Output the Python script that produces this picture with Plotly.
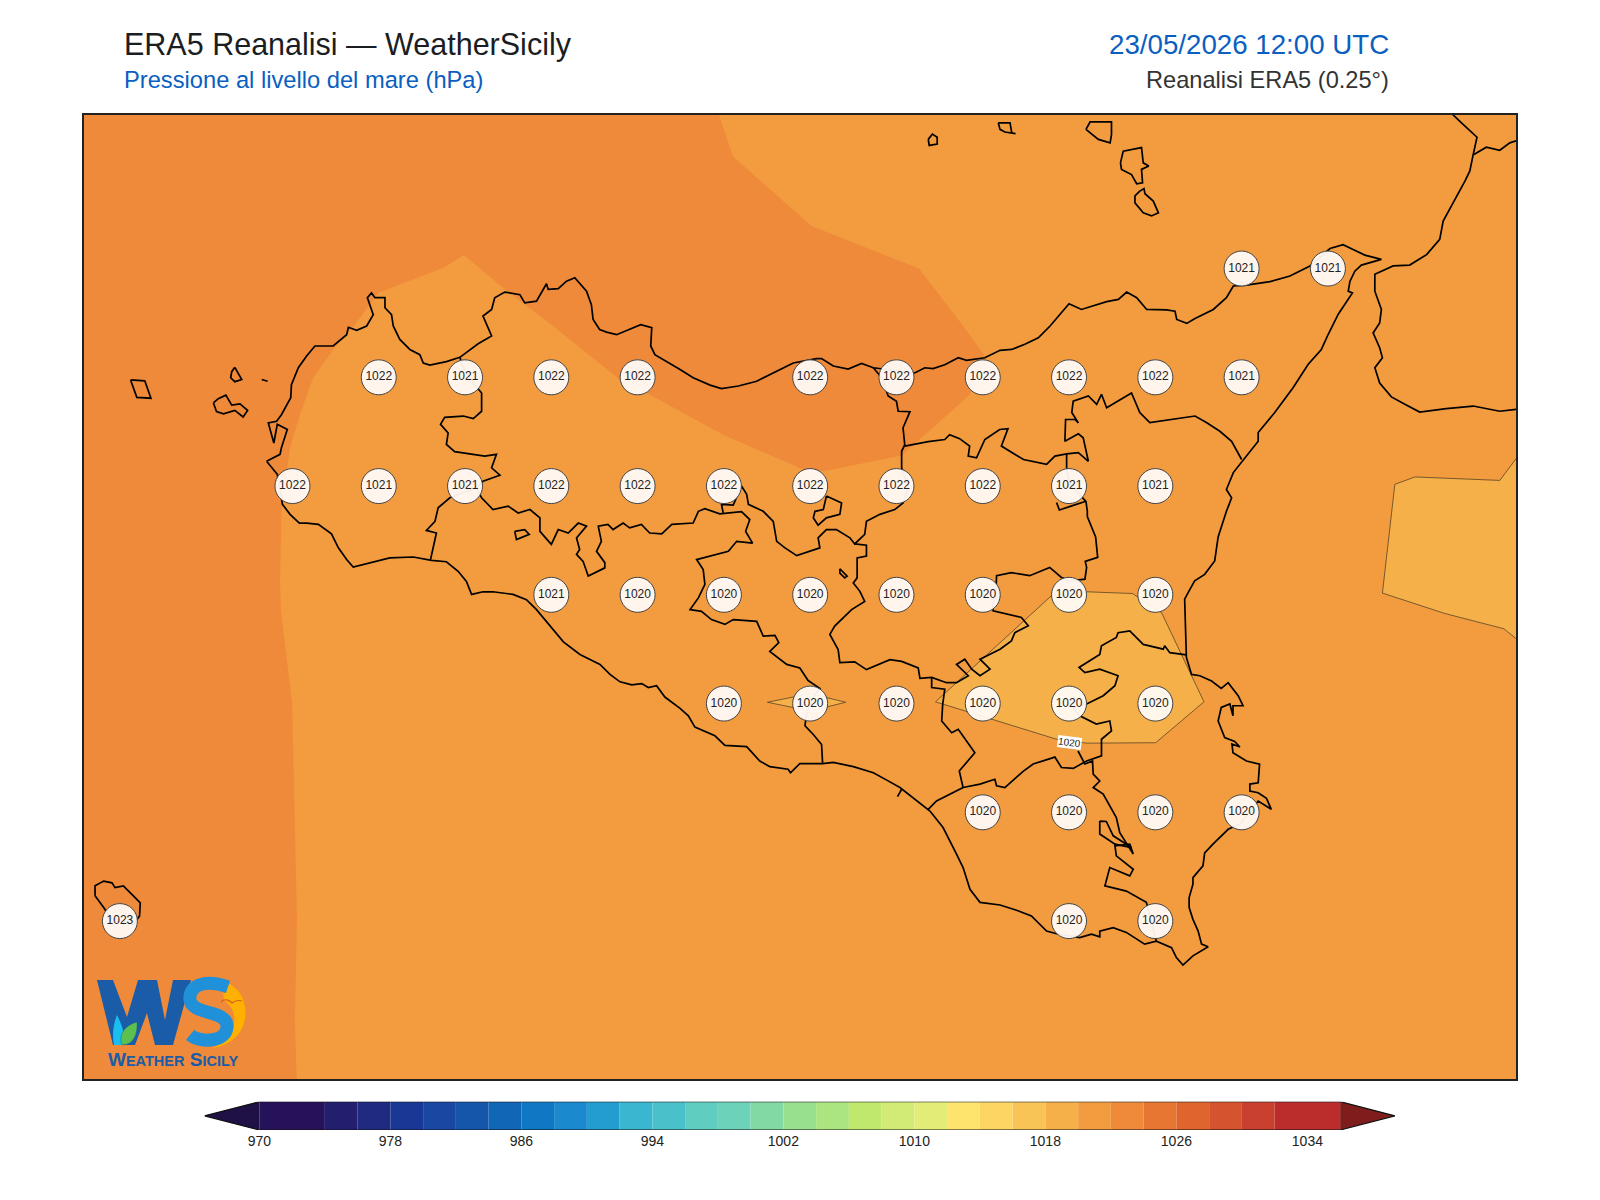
import re
import plotly.graph_objects as go

# map window (deg)
lon_range = [11.896, 16.045]
lat_range = [36.387, 38.603]

# grid points with values
row_3825_lon = [15.25, 15.5]
row_3825_val = [1021, 1021]
row_3800_lon = [12.75, 13.0, 13.25, 13.5, 14.0, 14.25, 14.5, 14.75, 15.0, 15.25]
row_3800_val = [1022, 1021, 1022, 1022, 1022, 1022, 1022, 1022, 1022, 1021]
row_3775_lon = [12.5, 12.75, 13.0, 13.25, 13.5, 13.75, 14.0, 14.25, 14.5, 14.75, 15.0]
row_3775_val = [1022, 1021, 1021, 1022, 1022, 1022, 1022, 1022, 1022, 1021, 1021]
row_3750_lon = [13.25, 13.5, 13.75, 14.0, 14.25, 14.5, 14.75, 15.0]
row_3750_val = [1021, 1020, 1020, 1020, 1020, 1020, 1020, 1020]
row_3725_lon = [13.75, 14.0, 14.25, 14.5, 14.75, 15.0]
row_3725_val = [1020, 1020, 1020, 1020, 1020, 1020]
row_3700_lon = [14.5, 14.75, 15.0, 15.25]
row_3700_val = [1020, 1020, 1020, 1020]
row_3675_lon = [12.0, 14.75, 15.0]
row_3675_val = [1023, 1020, 1020]

# colorbar
cb_edges = [970, 974, 976, 978, 980, 982, 984, 986, 988, 990, 992, 994, 996, 998, 1000, 1002,
            1004, 1006, 1008, 1010, 1012, 1014, 1016, 1018, 1020, 1022, 1024, 1026, 1028, 1030, 1032, 1036]
cb_colors = ['#25125A', '#221F6F', '#1F2A80', '#193895', '#1A47A2', '#1556AB', '#1266B6', '#0F78C5',
             '#1A89CD', '#239DD0', '#3AB6D0', '#4AC1CA', '#5FCDC0', '#6DD3B8', '#83D9A4', '#98DF8E',
             '#ABE57F', '#BFE86C', '#D2EB76', '#E2ED77', '#FDE46D', '#FCD562', '#F7C455', '#F5B049',
             '#F29C3F', '#EE8A3A', '#E77632', '#E0642D', '#D5532D', '#C9402E', '#BB2C2C']
cb_ticks = [970, 978, 986, 994, 1002, 1010, 1018, 1026, 1034]
under_color = '#1F1046'
over_color = '#7F1D1D'

# pressure regions
band_1020 = [(11.8, 36.3), (16.1, 36.3), (16.1, 38.7), (11.8, 38.7)]
band_1022 = [(11.8, 38.7), (13.69, 38.7), (13.735, 38.605), (13.777, 38.507), (14.004, 38.348), (14.315, 38.250),
             (14.433, 38.129), (14.506, 38.049), (14.462, 37.960), (14.265, 37.820), (14.038, 37.784),
             (13.980, 37.788), (13.748, 37.868), (13.536, 37.960), (13.448, 37.995), (13.255, 38.118),
             (13.110, 38.206), (12.997, 38.281), (12.937, 38.252), (12.748, 38.194), (12.681, 38.121),
             (12.618, 38.064), (12.560, 37.999), (12.522, 37.915), (12.493, 37.838), (12.468, 37.692),
             (12.464, 37.524), (12.467, 37.462), (12.499, 37.250), (12.513, 36.754), (12.507, 36.519),
             (12.516, 36.30), (11.8, 36.30)]
band_1018_a = [(14.363, 37.254), (14.699, 37.498), (14.801, 37.507), (14.934, 37.503), (15.018, 37.459),
               (15.141, 37.254), (15.001, 37.160), (14.801, 37.159), (14.714, 37.168)]
band_1018_b = [(13.876, 37.253), (14.0, 37.273), (14.103, 37.253), (14.0, 37.233)]
band_1018_c = [(15.694, 37.754), (15.752, 37.771), (15.998, 37.763), (16.09, 37.86), (16.09, 37.37),
               (16.010, 37.422), (15.839, 37.457), (15.658, 37.504)]

# coast lines
sicily = [(12.425, 37.807), (12.440, 37.792), (12.456, 37.777), (12.471, 37.708), (12.493, 37.685), (12.520, 37.665),
          (12.541, 37.665), (12.575, 37.662), (12.613, 37.640), (12.633, 37.608), (12.657, 37.581), (12.676, 37.564),
          (12.734, 37.576), (12.782, 37.585), (12.850, 37.587), (12.903, 37.579), (12.946, 37.576), (12.980, 37.554),
          (13.004, 37.531), (13.019, 37.501), (13.052, 37.507), (13.081, 37.507), (13.139, 37.501), (13.178, 37.489),
          (13.207, 37.466), (13.285, 37.392), (13.333, 37.363), (13.391, 37.340), (13.420, 37.317), (13.449, 37.300),
          (13.483, 37.293), (13.512, 37.296), (13.531, 37.287), (13.555, 37.291), (13.579, 37.265), (13.623, 37.239),
          (13.647, 37.222), (13.666, 37.196), (13.724, 37.176), (13.753, 37.154), (13.816, 37.151), (13.854, 37.118),
          (13.883, 37.105), (13.936, 37.099), (13.943, 37.091), (13.970, 37.112), (14.036, 37.112), (14.067, 37.115),
          (14.125, 37.105), (14.183, 37.091), (14.231, 37.070), (14.260, 37.057), (14.347, 37.003), (14.385, 36.965),
          (14.424, 36.904), (14.443, 36.873), (14.463, 36.823), (14.492, 36.793), (14.550, 36.787), (14.598, 36.775),
          (14.641, 36.762), (14.685, 36.727), (14.714, 36.721), (14.781, 36.712), (14.815, 36.720), (14.839, 36.714),
          (14.839, 36.727), (14.878, 36.735), (14.916, 36.724), (14.969, 36.697), (15.003, 36.704), (15.047, 36.689),
          (15.061, 36.666), (15.080, 36.649), (15.109, 36.670), (15.138, 36.685), (15.153, 36.691), (15.134, 36.697),
          (15.124, 36.727), (15.109, 36.754), (15.098, 36.781), (15.098, 36.804), (15.109, 36.835), (15.109, 36.850),
          (15.138, 36.877), (15.143, 36.907), (15.167, 36.927), (15.211, 36.961), (15.245, 36.973), (15.298, 37.026),
          (15.336, 37.007), (15.322, 37.032), (15.298, 37.045), (15.274, 37.049), (15.274, 37.065), (15.298, 37.068),
          (15.302, 37.111), (15.264, 37.118), (15.225, 37.137), (15.222, 37.157), (15.245, 37.150), (15.230, 37.163),
          (15.201, 37.172), (15.182, 37.210), (15.191, 37.241), (15.216, 37.249), (15.225, 37.222), (15.225, 37.245),
          (15.254, 37.245), (15.240, 37.268), (15.211, 37.298), (15.191, 37.285), (15.163, 37.302), (15.129, 37.314),
          (15.105, 37.317), (15.090, 37.356), (15.088, 37.425), (15.085, 37.490), (15.095, 37.505), (15.114, 37.532),
          (15.143, 37.547), (15.172, 37.578), (15.182, 37.633), (15.206, 37.692), (15.221, 37.723), (15.206, 37.742),
          (15.226, 37.781), (15.255, 37.811), (15.274, 37.829), (15.298, 37.853), (15.298, 37.873), (15.346, 37.919),
          (15.399, 37.976), (15.443, 38.030), (15.481, 38.064), (15.501, 38.099), (15.530, 38.145), (15.571, 38.194),
          (15.559, 38.198), (15.564, 38.221), (15.578, 38.244), (15.597, 38.258), (15.655, 38.271), (15.607, 38.281),
          (15.573, 38.294), (15.544, 38.305), (15.506, 38.296), (15.448, 38.256), (15.390, 38.233), (15.332, 38.220),
          (15.264, 38.212), (15.226, 38.210), (15.206, 38.183), (15.168, 38.156), (15.115, 38.135), (15.091, 38.124),
          (15.062, 38.133), (15.057, 38.152), (15.033, 38.155), (14.975, 38.156), (14.946, 38.183), (14.917, 38.196),
          (14.893, 38.179), (14.859, 38.174), (14.786, 38.156), (14.750, 38.169), (14.695, 38.118), (14.661, 38.091),
          (14.622, 38.076), (14.584, 38.064), (14.550, 38.062), (14.506, 38.045), (14.453, 38.039), (14.429, 38.045),
          (14.390, 38.029), (14.356, 38.020), (14.332, 38.022), (14.303, 38.010), (14.183, 38.022), (14.149, 38.032),
          (14.110, 38.019), (14.067, 38.026), (14.033, 38.043), (14.018, 38.043), (13.951, 38.033), (13.893, 38.010),
          (13.845, 37.991), (13.792, 37.980), (13.743, 37.974), (13.710, 37.982), (13.661, 37.999), (13.623, 38.018),
          (13.584, 38.037), (13.550, 38.052), (13.538, 38.072), (13.541, 38.114), (13.509, 38.121), (13.478, 38.110),
          (13.439, 38.098), (13.410, 38.104), (13.390, 38.110), (13.371, 38.133), (13.366, 38.167), (13.352, 38.198),
          (13.318, 38.229), (13.294, 38.221), (13.270, 38.204), (13.241, 38.202), (13.236, 38.215), (13.207, 38.175),
          (13.173, 38.171), (13.159, 38.190), (13.115, 38.196), (13.086, 38.183), (13.077, 38.156), (13.052, 38.141),
          (13.077, 38.095), (13.038, 38.077), (12.985, 38.046), (12.946, 38.036), (12.898, 38.028), (12.879, 38.033),
          (12.869, 38.052), (12.840, 38.064), (12.811, 38.087), (12.792, 38.118), (12.787, 38.144), (12.768, 38.160),
          (12.768, 38.183), (12.739, 38.183), (12.729, 38.194), (12.717, 38.183), (12.734, 38.144), (12.715, 38.118),
          (12.686, 38.108), (12.662, 38.115), (12.657, 38.098), (12.618, 38.072), (12.565, 38.072), (12.541, 38.049),
          (12.517, 38.022), (12.497, 37.983), (12.495, 37.953), (12.468, 37.914), (12.454, 37.899), (12.430, 37.895),
          (12.446, 37.849), (12.456, 37.892), (12.485, 37.880), (12.468, 37.838), (12.464, 37.823), (12.425, 37.807)]
favignana = [(12.271, 37.941), (12.285, 37.951), (12.307, 37.959), (12.324, 37.936), (12.348, 37.939), (12.370, 37.924),
             (12.357, 37.909), (12.333, 37.924), (12.300, 37.916), (12.280, 37.921), (12.271, 37.941)]
levanzo = [(12.333, 38.023), (12.353, 37.995), (12.333, 37.990), (12.321, 37.999), (12.324, 38.013), (12.333, 38.023)]
formica = [(12.411, 37.995), (12.428, 37.991)]
marettimo = [(12.031, 37.994), (12.072, 37.992), (12.090, 37.952), (12.049, 37.954), (12.031, 37.994)]
alicudi = [(14.342, 38.547), (14.354, 38.559), (14.368, 38.552), (14.368, 38.536), (14.345, 38.533), (14.342, 38.547)]
filicudi = [(14.545, 38.585), (14.579, 38.585), (14.584, 38.562), (14.595, 38.560), (14.564, 38.564), (14.550, 38.570),
            (14.545, 38.585)]
salina = [(14.799, 38.570), (14.811, 38.587), (14.873, 38.587), (14.873, 38.558), (14.869, 38.539), (14.835, 38.547),
          (14.799, 38.570)]
lipari = [(14.899, 38.493), (14.907, 38.520), (14.960, 38.528), (14.965, 38.493), (14.981, 38.486), (14.960, 38.478),
          (14.963, 38.447), (14.946, 38.445), (14.931, 38.466), (14.902, 38.478), (14.899, 38.493)]
vulcano = [(14.955, 38.428), (14.967, 38.434), (14.970, 38.422), (14.994, 38.405), (15.009, 38.378), (14.989, 38.371),
           (14.965, 38.378), (14.941, 38.401), (14.941, 38.417), (14.955, 38.428)]
linosa = [(11.928, 36.808), (11.928, 36.831), (11.953, 36.842), (11.977, 36.838), (11.986, 36.827), (12.010, 36.831),
          (12.039, 36.808), (12.059, 36.792), (12.057, 36.762), (12.039, 36.742), (11.972, 36.758), (11.953, 36.781),
          (11.928, 36.808)]
calabria = [(15.85, 38.615), (15.863, 38.603), (15.887, 38.585), (15.932, 38.552), (15.921, 38.512), (15.911, 38.474),
            (15.897, 38.451), (15.868, 38.409), (15.834, 38.359), (15.824, 38.317), (15.786, 38.282), (15.737, 38.258),
            (15.689, 38.256), (15.636, 38.237), (15.636, 38.198), (15.655, 38.156), (15.650, 38.125), (15.631, 38.102),
            (15.650, 38.068), (15.658, 38.045), (15.636, 38.022), (15.650, 37.987), (15.684, 37.955), (15.723, 37.938),
            (15.766, 37.920), (15.843, 37.928), (15.921, 37.934), (15.998, 37.922), (16.06, 37.928)]
calabria_border = [(15.923, 38.512), (15.959, 38.529), (15.998, 38.522), (16.027, 38.539), (16.06, 38.547)]

# province borders
trapani_border = [(12.985, 38.046), (12.995, 38.022), (13.028, 37.983), (13.048, 37.964), (13.048, 37.922),
                  (13.024, 37.905), (12.995, 37.911), (12.941, 37.908), (12.929, 37.892), (12.951, 37.872),
                  (12.946, 37.846), (12.970, 37.829), (13.057, 37.819), (13.091, 37.823), (13.077, 37.792),
                  (13.101, 37.775), (13.052, 37.761), (13.033, 37.746), (12.956, 37.723), (12.922, 37.700),
                  (12.913, 37.669), (12.888, 37.648), (12.917, 37.642), (12.908, 37.612), (12.900, 37.581)]
agrigento_border = [(13.033, 37.746), (13.048, 37.723), (13.081, 37.696), (13.125, 37.704), (13.154, 37.688),
                    (13.188, 37.696), (13.217, 37.677), (13.217, 37.646), (13.250, 37.616), (13.270, 37.650),
                    (13.299, 37.642), (13.328, 37.665), (13.352, 37.658), (13.323, 37.631), (13.332, 37.604),
                    (13.323, 37.593), (13.342, 37.577), (13.357, 37.543), (13.405, 37.562), (13.405, 37.574),
                    (13.381, 37.600), (13.395, 37.623), (13.386, 37.658), (13.414, 37.662), (13.429, 37.650),
                    (13.458, 37.665), (13.477, 37.654), (13.511, 37.662), (13.535, 37.642), (13.570, 37.640),
                    (13.599, 37.662), (13.661, 37.665), (13.676, 37.692), (13.695, 37.698), (13.738, 37.686),
                    (13.801, 37.691), (13.825, 37.673), (13.813, 37.646), (13.833, 37.619), (13.787, 37.623),
                    (13.763, 37.600), (13.710, 37.589), (13.671, 37.581), (13.690, 37.558), (13.695, 37.524),
                    (13.676, 37.493), (13.652, 37.466), (13.685, 37.462), (13.714, 37.443), (13.753, 37.432),
                    (13.777, 37.443), (13.845, 37.439), (13.864, 37.405), (13.898, 37.407), (13.909, 37.390),
                    (13.883, 37.370), (13.932, 37.340), (13.970, 37.332), (13.994, 37.303), (14.028, 37.285),
                    (14.009, 37.264), (13.989, 37.225), (13.985, 37.199), (14.009, 37.179), (14.033, 37.156),
                    (14.036, 37.112)]
palermo_border = [(13.748, 37.688), (13.743, 37.708), (13.777, 37.706), (13.787, 37.723), (13.801, 37.750),
                  (13.816, 37.731), (13.821, 37.708), (13.864, 37.692), (13.893, 37.669), (13.903, 37.623),
                  (13.927, 37.608), (13.961, 37.590), (14.009, 37.602), (14.028, 37.608), (14.023, 37.631),
                  (14.047, 37.650), (14.076, 37.650), (14.115, 37.631), (14.129, 37.617), (14.158, 37.639),
                  (14.163, 37.669), (14.202, 37.685), (14.245, 37.696), (14.269, 37.711), (14.284, 37.746),
                  (14.265, 37.792), (14.265, 37.830), (14.274, 37.845), (14.269, 37.884), (14.289, 37.921),
                  (14.255, 37.922), (14.250, 37.945), (14.226, 37.957), (14.207, 37.999), (14.183, 38.022)]
enna_border = [(14.129, 37.617), (14.163, 37.614), (14.163, 37.589), (14.136, 37.585), (14.136, 37.539), (14.125, 37.527),
               (14.144, 37.508), (14.158, 37.485), (14.120, 37.466), (14.071, 37.428), (14.057, 37.409), (14.081, 37.374),
               (14.086, 37.344), (14.129, 37.346), (14.163, 37.328), (14.231, 37.351), (14.265, 37.347), (14.313, 37.332),
               (14.318, 37.308), (14.352, 37.310), (14.395, 37.298), (14.424, 37.298), (14.458, 37.314), (14.424, 37.340),
               (14.448, 37.352), (14.468, 37.329), (14.492, 37.314), (14.521, 37.329), (14.492, 37.352), (14.550, 37.375),
               (14.583, 37.394), (14.593, 37.413), (14.632, 37.429), (14.612, 37.448), (14.530, 37.463), (14.528, 37.478),
               (14.538, 37.501), (14.540, 37.544), (14.583, 37.551), (14.636, 37.544), (14.694, 37.563), (14.728, 37.540),
               (14.752, 37.532), (14.796, 37.536), (14.801, 37.563), (14.797, 37.577), (14.833, 37.586), (14.827, 37.633),
               (14.803, 37.680), (14.803, 37.692), (14.799, 37.715), (14.753, 37.754), (14.743, 37.788), (14.743, 37.824)]
messina_border = [(14.274, 37.842), (14.342, 37.852), (14.390, 37.857), (14.404, 37.868), (14.433, 37.859), (14.462, 37.842),
                  (14.458, 37.819), (14.482, 37.815), (14.506, 37.857), (14.549, 37.880), (14.573, 37.882), (14.554, 37.842),
                  (14.618, 37.811), (14.685, 37.800), (14.709, 37.819), (14.743, 37.824), (14.777, 37.827), (14.806, 37.807),
                  (14.791, 37.861), (14.777, 37.870), (14.738, 37.853), (14.740, 37.903), (14.767, 37.903), (14.777, 37.895),
                  (14.758, 37.919), (14.762, 37.945), (14.806, 37.957), (14.830, 37.938), (14.844, 37.961), (14.859, 37.930),
                  (14.931, 37.964), (14.955, 37.919), (14.984, 37.896), (15.052, 37.903), (15.115, 37.911), (15.148, 37.896),
                  (15.187, 37.876), (15.221, 37.853), (15.250, 37.811)]
etna_spur = [(14.714, 37.712), (14.722, 37.695), (14.760, 37.705), (14.799, 37.715)]
catania_border = [(14.352, 37.310), (14.352, 37.287), (14.390, 37.283), (14.384, 37.249), (14.381, 37.210), (14.410, 37.183),
                  (14.429, 37.191), (14.477, 37.137), (14.432, 37.095), (14.443, 37.057), (14.366, 37.026), (14.342, 37.007)]
ragusa_border = [(14.443, 37.057), (14.492, 37.065), (14.535, 37.076), (14.540, 37.061), (14.564, 37.057), (14.617, 37.094),
                 (14.646, 37.111), (14.709, 37.127), (14.728, 37.103), (14.762, 37.101), (14.801, 37.118), (14.844, 37.130),
                 (14.844, 37.168), (14.873, 37.187), (14.868, 37.210), (14.829, 37.203), (14.781, 37.222), (14.762, 37.241),
                 (14.801, 37.249), (14.849, 37.268), (14.883, 37.291), (14.892, 37.314), (14.839, 37.329), (14.796, 37.321),
                 (14.779, 37.333), (14.839, 37.363), (14.844, 37.383), (14.887, 37.402), (14.892, 37.413), (14.926, 37.417),
                 (14.965, 37.386), (15.023, 37.375), (15.027, 37.383), (15.042, 37.367), (15.090, 37.362)]
siracusa_border = [(14.776, 37.141), (14.796, 37.111), (14.818, 37.118), (14.820, 37.088), (14.839, 37.072), (14.820, 37.057),
                   (14.849, 37.042), (14.887, 36.988), (14.897, 36.953), (14.936, 36.904), (14.926, 36.927), (14.883, 36.923),
                   (14.887, 36.900), (14.936, 36.869), (14.926, 36.854), (14.868, 36.873), (14.854, 36.831), (14.916, 36.819),
                   (14.974, 36.793), (14.994, 36.735), (15.003, 36.704)]
siracusa_loop = [(14.839, 36.980), (14.858, 36.979), (14.878, 36.946), (14.931, 36.919), (14.883, 36.927), (14.839, 36.950),
                 (14.839, 36.980)]
ragusa_tick = [(14.265, 37.053), (14.253, 37.036)]
enclave = [(14.047, 37.727), (14.091, 37.711), (14.086, 37.685), (14.047, 37.677), (14.023, 37.660), (14.009, 37.677),
           (14.014, 37.692), (14.038, 37.696), (14.047, 37.727)]
lake_a = [(14.086, 37.560), (14.107, 37.543), (14.100, 37.539), (14.086, 37.550), (14.086, 37.560)]
lake_b = [(13.144, 37.646), (13.173, 37.650), (13.186, 37.639), (13.149, 37.627), (13.144, 37.646)]

outlines = [sicily, favignana, levanzo, formica, marettimo, alicudi, filicudi, salina, lipari, vulcano, linosa,
            calabria, calabria_border, trapani_border, agrigento_border, palermo_border, enna_border, messina_border,
            etna_spur, catania_border, ragusa_border, siracusa_border, siracusa_loop, ragusa_tick, enclave, lake_a,
            lake_b]


def px_path(s):
    # pixel coords of the page -> paper coords
    return re.sub(r'(-?[\d.]+),(-?[\d.]+)',
                  lambda m: f'{float(m[1]) / 1600:.5f},{1 - float(m[2]) / 1200:.5f}', s)


fig = go.Figure()

# filled bands
fig.add_trace(go.Scatter(x=[p[0] for p in band_1020], y=[p[1] for p in band_1020], mode='lines',
                         fill='toself', fillcolor='#F29C3F', line=dict(width=0), hoverinfo='skip'))
fig.add_trace(go.Scatter(x=[p[0] for p in band_1022], y=[p[1] for p in band_1022], mode='lines',
                         fill='toself', fillcolor='#EE8A3A', line=dict(width=0), hoverinfo='skip'))
for band in [band_1018_a, band_1018_b, band_1018_c]:
    fig.add_trace(go.Scatter(x=[p[0] for p in band] + [band[0][0]], y=[p[1] for p in band] + [band[0][1]],
                             mode='lines', fill='toself', fillcolor='#F5B049',
                             line=dict(color='#5a4526', width=0.8), hoverinfo='skip'))

for line in outlines:
    fig.add_trace(go.Scatter(x=[p[0] for p in line], y=[p[1] for p in line], mode='lines',
                             line=dict(color='black', width=1.7), hoverinfo='skip'))

# contour label hidden under a station
fig.add_trace(go.Scatter(x=[14.0], y=[37.236], mode='text', text=['1020'],
                         textfont=dict(size=11, color='white'), hoverinfo='skip'))

rows = [(38.25, row_3825_lon, row_3825_val), (38.0, row_3800_lon, row_3800_val), (37.75, row_3775_lon, row_3775_val),
        (37.5, row_3750_lon, row_3750_val), (37.25, row_3725_lon, row_3725_val), (37.0, row_3700_lon, row_3700_val),
        (36.75, row_3675_lon, row_3675_val)]
for lat, lons, vals in rows:
    fig.add_trace(go.Scatter(x=lons, y=[lat] * len(lons), mode='markers+text', text=[str(v) for v in vals],
                             textposition='middle center', textfont=dict(size=12, color='#222222'),
                             marker=dict(size=35, color='rgba(255,250,245,0.95)', line=dict(color='#444444', width=1)),
                             hoverinfo='skip'))

# colorbar
fig.add_trace(go.Bar(x=[b - a for a, b in zip(cb_edges[:-1], cb_edges[1:])], base=cb_edges[:-1],
                     y=[0] * len(cb_colors), orientation='h', width=1, marker=dict(color=cb_colors, line=dict(width=0)),
                     xaxis='x2', yaxis='y2', hoverinfo='skip'))
fig.add_trace(go.Scatter(x=[970, 966.65, 970, 970], y=[0.5, 0, -0.5, 0.5], mode='lines', fill='toself',
                         fillcolor=under_color, line=dict(width=0), xaxis='x2', yaxis='y2', hoverinfo='skip'))
fig.add_trace(go.Scatter(x=[1036, 1039.35, 1036, 1036], y=[0.5, 0, -0.5, 0.5], mode='lines', fill='toself',
                         fillcolor=over_color, line=dict(width=0), xaxis='x2', yaxis='y2', hoverinfo='skip'))
fig.add_trace(go.Scatter(x=[970, 1036, 1039.35, 1036, 970, 966.65, 970], y=[0.5, 0.5, 0, -0.5, -0.5, 0, 0.5], mode='lines',
                         line=dict(color='#111111', width=1.2), xaxis='x2', yaxis='y2', hoverinfo='skip'))

# logo
blue_w = '#1A5CA8'
blue_s = '#2090D8'
logo_shapes = [
    dict(type='path', path=px_path('M 222,982 C 252,985 258,1042 212,1048 C 236,1036 242,1014 224,1000 Z'),
         fillcolor='#FFB000', line=dict(width=0)),
    dict(type='path', path=px_path('M 97,980 L 113,980 L 127,1017 L 138,980 L 157,980 L 165,1020 L 173,980 L 191,980 '
                                   'L 173,1045 L 155,1045 L 147,1013 L 135,1045 L 113,1045 Z'),
         fillcolor=blue_w, line=dict(width=0)),
    dict(type='path', path=px_path('M 228,987 C 205,979 188,985 190,1000 C 192,1015 226,1010 227,1025 C 228,1043 200,1043 190,1035'),
         line=dict(color=blue_s, width=13)),
    dict(type='path', path=px_path('M 117,1015 C 122,1025 126,1035 123,1045 L 114,1045 C 112,1035 113,1025 117,1015 Z'),
         fillcolor='#19BFEF', line=dict(width=0)),
    dict(type='path', path=px_path('M 137,1022 C 138,1035 133,1045 122,1045 C 118,1035 125,1025 137,1022 Z'),
         fillcolor='#5CC04F', line=dict(color='#1F5F8F', width=0.5)),
    dict(type='path', path=px_path('M 221,1002 C 225,998 229,1000 232,1003 C 235,1000 238,1000 242,1001'),
         line=dict(color='#D2601A', width=1.2)),
]
for s in logo_shapes:
    s.update(xref='paper', yref='paper')

title_font = 'Liberation Sans'
annotations = [
    dict(text='ERA5 Reanalisi — WeatherSicily', x=122 / 1600, y=1 - 45 / 1200, xanchor='left', yanchor='middle',
         font=dict(size=30.5, color='#1A1D22')),
    dict(text='Pressione al livello del mare (hPa)', x=122 / 1600, y=1 - 80 / 1200, xanchor='left', yanchor='middle',
         font=dict(size=23.7, color='#0A5FC0')),
    dict(text='23/05/2026 12:00 UTC', x=1391 / 1600, y=1 - 45 / 1200, xanchor='right', yanchor='middle',
         font=dict(size=27.7, color='#0A5FC0')),
    dict(text='Reanalisi ERA5 (0.25°)', x=1391 / 1600, y=1 - 80 / 1200, xanchor='right', yanchor='middle',
         font=dict(size=23.6, color='#333333')),
    dict(text='<b>W<span style="font-size:14.5px">EATHER</span> S<span style="font-size:14.5px">ICILY</span></b>',
         x=173 / 1600, y=1 - 1059 / 1200, xanchor='center', yanchor='middle', font=dict(size=19, color=blue_w)),
]
for a in annotations:
    a.update(xref='paper', yref='paper', showarrow=False)
annotations.append(dict(text='1020', x=14.752, y=37.160, xref='x', yref='y', textangle=7, showarrow=False,
                        font=dict(size=10, color='#222222'), bgcolor='white', borderpad=0))

fig.update_layout(
    width=1600, height=1200, margin=dict(l=0, r=0, t=0, b=0), showlegend=False,
    paper_bgcolor='white', plot_bgcolor='white', font=dict(family=title_font),
    barmode='overlay', annotations=annotations, shapes=logo_shapes,
    xaxis=dict(domain=[84 / 1600, 1516 / 1600], range=lon_range, showticklabels=False, ticks='', showgrid=False,
               zeroline=False, showline=True, mirror=True, linecolor='#222222', linewidth=1.5),
    yaxis=dict(domain=[1 - 1079 / 1200, 1 - 115 / 1200], range=lat_range, showticklabels=False, ticks='', showgrid=False,
               zeroline=False, showline=True, mirror=True, linecolor='#222222', linewidth=1.5),
    xaxis2=dict(domain=[204.5 / 1600, 1395 / 1600], range=[966.65, 1039.35], anchor='y2', tickvals=cb_ticks, ticks='',
                showgrid=False, zeroline=False, showline=False, ticklabelstandoff=1,
                tickfont=dict(size=14, color='#222222')),
    yaxis2=dict(domain=[1 - 1130 / 1200, 1 - 1101.7 / 1200], range=[-0.5, 0.5], anchor='x2', showticklabels=False,
                ticks='', showgrid=False, zeroline=False, showline=False),
)

fig.write_html('out.html', config=dict(displayModeBar=False), post_script="document.body.style.margin='0';")
